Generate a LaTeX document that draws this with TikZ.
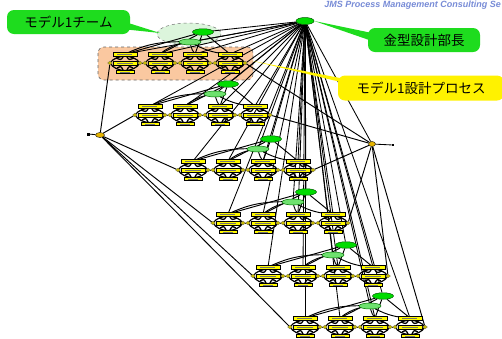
\documentclass[tikz,border=0pt]{standalone}
\usepackage{fontspec}
\setmainfont{Liberation Sans}
\newfontfamily\jp{Noto Sans CJK JP}
\usetikzlibrary{shapes.geometric}
\pgfdeclarelayer{back}
\pgfdeclarelayer{edges}
\pgfsetlayers{back,edges,main}
\definecolor{leadgreen}{RGB}{0,220,0}
\definecolor{memgreen}{RGB}{110,225,110}
\definecolor{calloutgreen}{RGB}{30,220,30}
\definecolor{peach}{RGB}{250,200,160}
\definecolor{paleteam}{RGB}{220,245,220}
\definecolor{barfill}{RGB}{255,250,0}
\definecolor{joint}{RGB}{200,185,0}
\definecolor{hubfill}{RGB}{230,180,0}
\definecolor{brand}{RGB}{120,140,215}
\tikzset{
  fanline/.style={black, line width=0.85pt},
  rowline/.style={black, line width=0.95pt},
  bar/.style={fill=barfill, draw=black, line width=0.45pt},
  barink/.style={black!55, line width=0.6pt},
  jointmark/.style={diamond, fill=joint, draw=black!60, line width=0.2pt, inner sep=0pt, minimum width=5pt, minimum height=4pt},
  lead/.style={ellipse, fill=leadgreen, draw=green!35!black, line width=0.5pt, minimum width=21pt, minimum height=6.5pt, inner sep=0pt},
  member/.style={ellipse, fill=memgreen, draw=green!45!black, line width=0.5pt, minimum width=22pt, minimum height=6pt, inner sep=0pt},
  hub/.style={ellipse, fill=hubfill, draw=black, line width=0.4pt, minimum width=9pt, minimum height=5pt, inner sep=0pt},
  stub/.style={fill=black, inner sep=0pt, minimum size=3pt},
  callout/.style={rounded corners=7pt, inner sep=0pt, font=\jp\fontsize{13.5}{15}\selectfont, text=black},
}
\begin{document}
\begin{tikzpicture}[x=1pt,y=-1pt]
\useasboundingbox (0,0) rectangle (502,338);
\clip (0,0) rectangle (502,338);

% department head and the two hub points
\node[lead, minimum width=18pt, minimum height=7pt] (head) at (305,21) {};
\node[hub] (start) at (100,135) {};
\node[stub] (startstub) at (88,134) {};
\node[hub, minimum width=7pt] (finish) at (372,144) {};
\node[stub, minimum size=2.5pt] (finishstub) at (393,145) {};

% six model rows, four process clusters each
\foreach \r/\x/\y in {1/125/63, 2/150/115, 3/193/170, 4/228/223, 5/268/276, 6/305/327} {
  \foreach \c in {1,...,4} {
    \pgfmathsetmacro\cx{\x+35*(\c-1)}
    \coordinate (c\r-\c) at (\cx,\y);
    \coordinate (l\r-\c) at (\cx-15,\y);
    \coordinate (r\r-\c) at (\cx+15,\y);
    \coordinate (t\r-\c) at (\cx,\y-9);
    % cluster internals
    \draw[black, line width=1.2pt] (\cx-15,\y) .. controls (\cx-9,\y-9) and (\cx+9,\y-9) .. (\cx+15,\y);
    \draw[black, line width=1.2pt] (\cx-15,\y) .. controls (\cx-9,\y+10) and (\cx+9,\y+10) .. (\cx+15,\y);
    \draw[black, line width=1.3pt] (\cx-9,\y-5) .. controls (\cx-4,\y-3) .. (\cx-2,\y-6)
                                  (\cx+9,\y-5) .. controls (\cx+4,\y-3) .. (\cx+2,\y-6);
    \draw[black, line width=1.3pt] (\cx-8,\y+5) .. controls (\cx-4,\y+3) .. (\cx-2,\y+7)
                                  (\cx+8,\y+5) .. controls (\cx+4,\y+3) .. (\cx+2,\y+7);
    \draw[bar] (\cx-12,\y-11) rectangle (\cx+12,\y-7);
    \draw[bar] (\cx-12,\y-2) rectangle (\cx+12,\y+2);
    \draw[bar] (\cx-9,\y+7) rectangle (\cx+9,\y+10.5);
    \draw[barink] (\cx-8,\y-9) -- (\cx+7,\y-9) (\cx-8,\y) -- (\cx+8,\y) (\cx-5,\y+8.8) -- (\cx+5,\y+8.8);
    \node[jointmark] (jl\r-\c) at (l\r-\c) {};
    \node[jointmark] (jr\r-\c) at (r\r-\c) {};
  }
  \node[lead] (g\r) at (\x+78,\y-31) {};
  \node[member] (m\r) at (\x+65,\y-21) {};
}

% white page, team highlight and process highlight
\begin{pgfonlayer}{back}
  \fill[white] (0,0) rectangle (502,338);
  \draw[fill=paleteam, draw=black!55, dashed, line width=0.5pt] (189,34) ellipse [x radius=32, y radius=11];
  \draw[fill=peach, draw=black!60, dashed, line width=0.6pt, rounded corners=6pt] (98,47) rectangle (253,80);
\end{pgfonlayer}

% connectors
\begin{pgfonlayer}{edges}
  \draw[fanline] (startstub) -- (start);
  \draw[fanline] (finish) -- (finishstub);
  \draw[fanline] (head) -- (finish);
  \foreach \r in {1,...,6} {
    \draw[fanline] (head) -- (g\r);
    \draw[fanline] (head) -- (m\r);
    \draw[rowline] (start) -- (jl\r-1);
    \draw[rowline] (jr\r-4) -- (finish);
    \foreach \c in {1,...,4} {
      \draw[fanline] (head) -- (t\r-\c);
      \draw[rowline] (g\r) -- (t\r-\c);
      \draw[rowline] (m\r) to[bend right=12] (t\r-\c);
    }
    \foreach \c/\n in {1/2,2/3,3/4} {
      \draw[rowline] (jr\r-\c) -- (jl\r-\n);
    }
  }
\end{pgfonlayer}

% callouts
\fill[calloutgreen] (122,21) -- (160,33) -- (122,29) -- cycle;
\node[callout, fill=calloutgreen, minimum width=123pt, minimum height=24pt] (teamlabel) at (68.5,22) {モデル1チーム};
\fill[calloutgreen] (head.east) -- (372,33) -- (372,41) -- cycle;
\node[callout, fill=calloutgreen, minimum width=112pt, minimum height=24pt] (headlabel) at (424,40) {金型設計部長};
\fill[yellow] (253,61) -- (345,79) -- (345,83) -- cycle;
\node[callout, fill=yellow, minimum width=166pt, minimum height=25pt] (processlabel) at (421,88) {モデル1設計プロセス};

% banner
\node[anchor=east, inner sep=0pt, text=brand, font=\bfseries\itshape\fontsize{9}{10}\selectfont] (banner) at (501,5) {JMS Process Management Consulting Se};
\end{tikzpicture}
\end{document}
